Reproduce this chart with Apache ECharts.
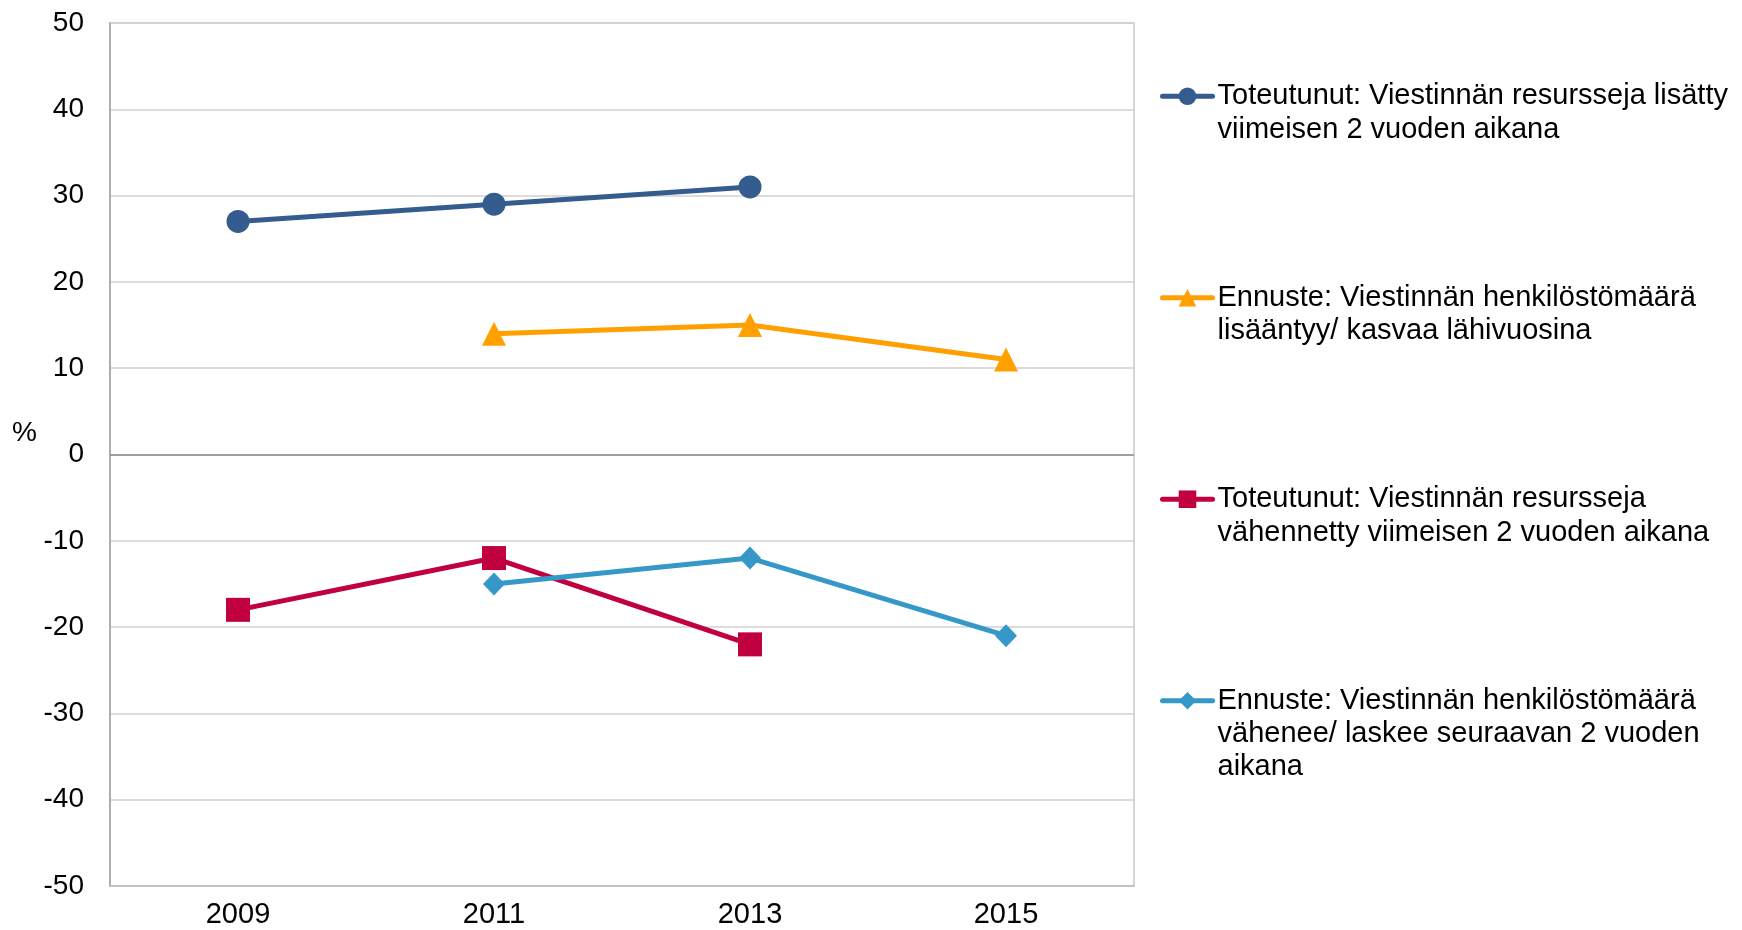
<!DOCTYPE html>
<html>
<head>
<meta charset="utf-8">
<script src="https://cdn.jsdelivr.net/npm/echarts@6/dist/echarts.min.js"></script>
<style>html,body{margin:0;padding:0;background:#fff}#c{width:1742px;height:930px}</style>
</head>
<body>
<div id="c"></div>
<script>
const years = ['2009', '2011', '2013', '2015'];
const seriesNames = [
  'Toteutunut: Viestinnän resursseja lisätty\nviimeisen 2 vuoden aikana',
  'Ennuste: Viestinnän henkilöstömäärä\nlisääntyy/ kasvaa lähivuosina',
  'Toteutunut: Viestinnän resursseja\nvähennetty viimeisen 2 vuoden aikana',
  'Ennuste: Viestinnän henkilöstömäärä\nvähenee/ laskee seuraavan 2 vuoden\naikana'
];
const increasedActual = [27, 29, 31, null];
const increaseForecast = [null, 14, 15, 11];
const decreasedActual = [-18, -12, -22, null];
const decreaseForecast = [null, -15, -12, -21];
const yMin = -50, yMax = 50, yStep = 10;

const FONT = 'Liberation Sans, Arial, sans-serif';
const L = 33.3;
const chart = echarts.init(document.getElementById('c'), null, {renderer: 'canvas'});

function lineSeries(name, data, color, symbol, size, extra) {
  return Object.assign({
    name: name, type: 'line', data: data, connectNulls: false,
    symbol: symbol, symbolSize: size, showSymbol: true,
    lineStyle: {color: color, width: 5},
    itemStyle: {color: color},
    emphasis: {disabled: true},
    animation: false
  }, extra || {});
}

// pad each legend label with blank lines so that its first line sits at the icon and all blocks have equal height
function legendLabel(name) {
  const n = name.split('\n').length;
  const above = '\n'.repeat(n + 0);
  const lines = [];
  for (let i = 0; i < n; i++) lines.push('');
  const total = 5;
  const before = Math.floor(total / 2);
  const after = total - before - n;
  return '\n'.repeat(before) + name + '\n'.repeat(Math.max(after, 0));
}

chart.setOption({
  backgroundColor: '#ffffff',
  textStyle: {fontFamily: FONT},
  grid: {left: 110, right: 608, top: 23, bottom: 44, show: true, borderColor: '#C8C8C8', borderWidth: 1.5, backgroundColor: 'transparent'},
  xAxis: {
    type: 'category', data: years, boundaryGap: true,
    axisLine: {onZero: false, lineStyle: {color: '#BBBBBB', width: 1.5}},
    axisTick: {show: false},
    axisLabel: {color: '#000', fontSize: 29, fontFamily: FONT, margin: 14},
    splitLine: {show: false}
  },
  yAxis: {
    type: 'value', min: yMin, max: yMax, interval: yStep,
    axisLine: {show: true, lineStyle: {color: '#A0A0A0', width: 1.5}},
    axisTick: {show: false},
    axisLabel: {color: '#000', fontSize: 28, fontFamily: FONT, margin: 26},
    splitLine: {lineStyle: {color: '#D0D0D0', width: 1.5}}
  },
  graphic: [{type: 'text', left: 12, top: 419, style: {text: '%', fontSize: 28, fontFamily: FONT, fill: '#000'}}],
  legend: {
    orient: 'vertical', left: 1160, top: 13, padding: 0,
    itemWidth: 50, itemHeight: 22, itemGap: 35,
    lineStyle: {width: 5, cap: 'round'},
    textStyle: {fontSize: 29, fontFamily: FONT, color: '#000', lineHeight: L},
    selectedMode: false,
    formatter: legendLabel,
    data: seriesNames
  },
  series: [
    lineSeries(seriesNames[0], increasedActual, '#345C8F', 'circle', 23, {
      markLine: {silent: true, symbol: 'none', label: {show: false}, animation: false,
        lineStyle: {color: '#8C8C8C', width: 1.5, type: 'solid'}, data: [{yAxis: 0}]}
    }),
    lineSeries(seriesNames[1], increaseForecast, '#FFA000', 'triangle', 24),
    lineSeries(seriesNames[2], decreasedActual, '#C0003F', 'rect', 24),
    lineSeries(seriesNames[3], decreaseForecast, '#3598C9', 'diamond', [22, 23])
  ]
});
</script>
</body>
</html>
